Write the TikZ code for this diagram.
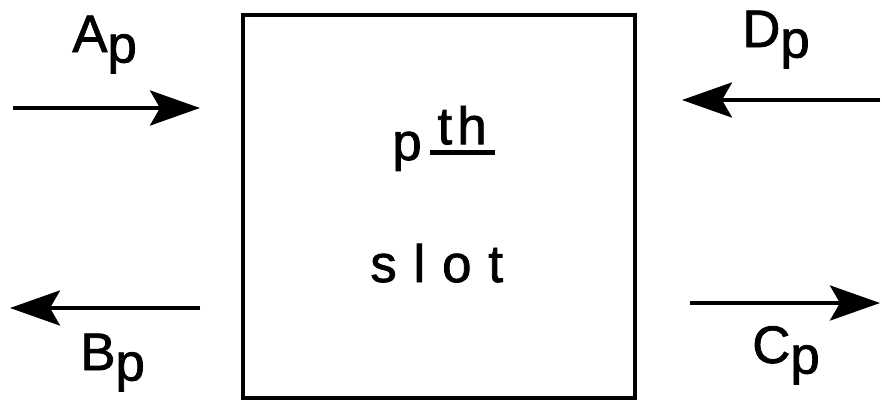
\documentclass[tikz,border=0pt]{standalone}
\usepackage{fontspec}
\setmainfont{Liberation Sans}
\newfontfamily\leroy[FakeBold=1.5]{Liberation Sans}
\usetikzlibrary{arrows.meta}
\begin{document}
\begin{tikzpicture}[
  lab/.style={inner sep=0pt, font=\leroy\fontsize{30}{36}\selectfont},
  flow/.style={line width=2.4pt, -{Stealth[length=10mm, width=7mm, inset=2mm]}}
]
\useasboundingbox (0,0) rectangle (17.64,8.04);
% the slot
\node[draw, line width=1.8pt, minimum width=7.84cm, minimum height=7.66cm] (slotbox) at (8.78,3.91) {};
\node[lab, anchor=base west] (pth) at (7.84,4.84)
  {p\hspace{0.15em}\raisebox{0.3em}{\setbox0\hbox{\hspace{0.15em}t\hspace{0.1em}h\hspace{0.15em}}\rlap{\rule[-0.2em]{\wd0}{0.09em}}\box0}};
\node[lab, anchor=base west] (slot) at (7.4,2.4) {s\hspace{0.32em}l\hspace{0.32em}o\hspace{0.32em}t};
% labels
\node[lab, anchor=base west] (Alab) at (1.44,7.0) {A\raisebox{-0.2em}{p}};
\node[lab, anchor=base west] (Blab) at (1.6,0.64) {B\raisebox{-0.2em}{p}};
\node[lab, anchor=base west] (Dlab) at (14.84,7.1) {D\raisebox{-0.2em}{p}};
\node[lab, anchor=base west] (Clab) at (15.04,0.78) {C\raisebox{-0.2em}{p}};
% arrow ends
\coordinate (A0) at (0.26,5.88);  \coordinate (A1) at (4.0,5.88);
\coordinate (B0) at (4.0,1.88);   \coordinate (B1) at (0.2,1.88);
\coordinate (D0) at (17.6,6.04);  \coordinate (D1) at (13.64,6.04);
\coordinate (C0) at (13.8,1.98);  \coordinate (C1) at (17.6,1.98);
\draw[flow] (A0) -- (A1);
\draw[flow] (B0) -- (B1);
\draw[flow] (D0) -- (D1);
\draw[flow] (C0) -- (C1);
\end{tikzpicture}
\end{document}
